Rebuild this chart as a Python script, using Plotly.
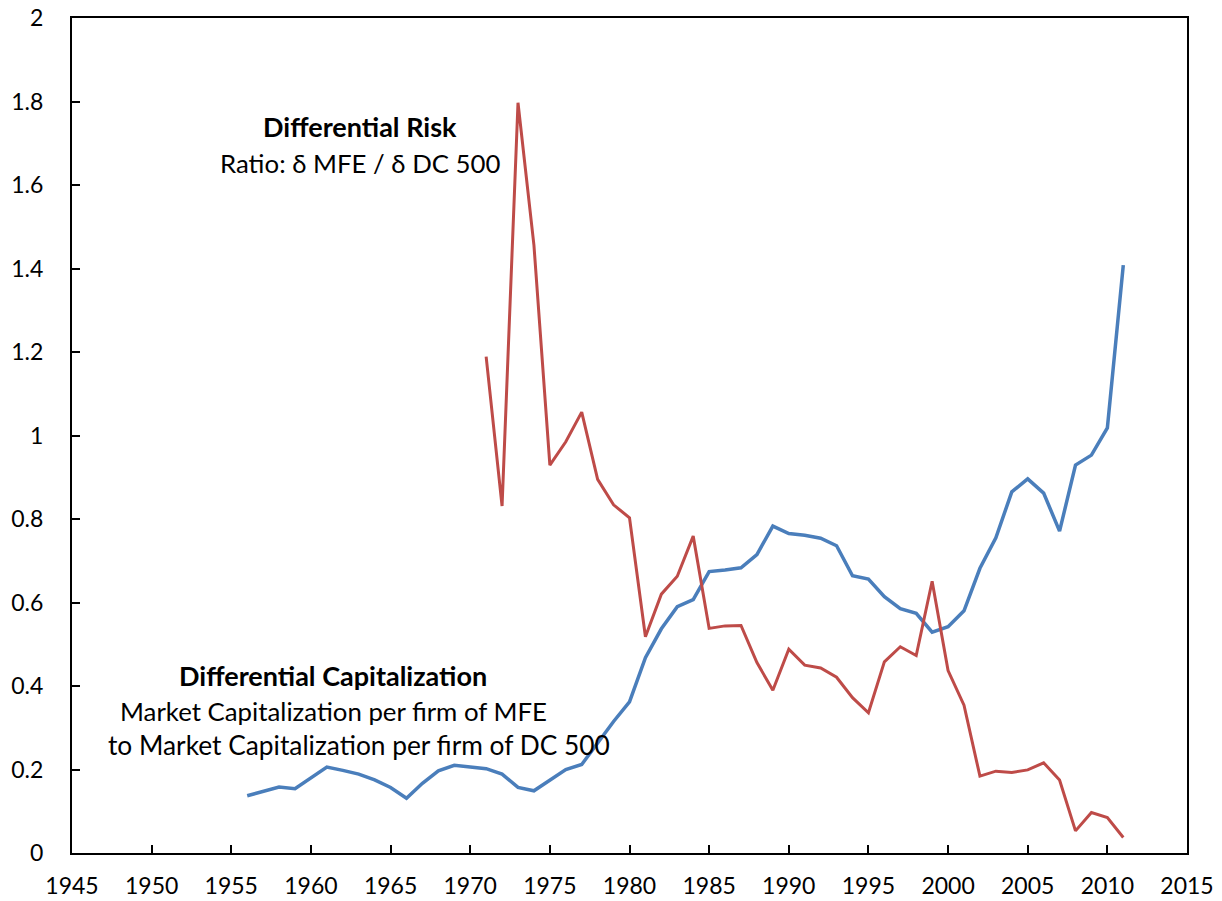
import plotly.graph_objects as go

# Differential Capitalization (MFE / DC 500), 1956-2011
cap_years = list(range(1956, 2012))
cap_values = [0.137, 0.147, 0.158, 0.154, 0.179, 0.206, 0.198, 0.189, 0.175, 0.157,
              0.131, 0.167, 0.197, 0.210, 0.206, 0.202, 0.189, 0.157, 0.149, 0.175,
              0.200, 0.212, 0.263, 0.315, 0.362, 0.468, 0.537, 0.590, 0.607, 0.674,
              0.678, 0.683, 0.715, 0.783, 0.765, 0.761, 0.754, 0.736, 0.664, 0.656,
              0.614, 0.585, 0.574, 0.529, 0.542, 0.580, 0.682, 0.755, 0.865, 0.896,
              0.862, 0.771, 0.929, 0.953, 1.018, 1.408]

# Differential Risk (delta MFE / delta DC 500), 1971-2011
risk_years = list(range(1971, 2012))
risk_values = [1.189, 0.831, 1.797, 1.456, 0.929, 0.985, 1.056, 0.895, 0.834, 0.803,
               0.518, 0.620, 0.663, 0.759, 0.538, 0.544, 0.545, 0.456, 0.390, 0.488,
               0.450, 0.443, 0.421, 0.372, 0.336, 0.458, 0.494, 0.473, 0.651, 0.437,
               0.354, 0.184, 0.196, 0.193, 0.199, 0.216, 0.175, 0.053, 0.097, 0.085,
               0.037]

FONT = "Lato, 'Open Sans', sans-serif"

fig = go.Figure()

fig.add_trace(go.Scatter(x=cap_years, y=cap_values, mode="lines",
                         line=dict(color="#4A7EBB", width=3.5), name="Differential Capitalization"))
fig.add_trace(go.Scatter(x=risk_years, y=risk_values, mode="lines",
                         line=dict(color="#BE4B48", width=3), name="Differential Risk"))

# Beschriftungen im Plot (x, y, Text, Schriftgroesse)
notes = [
    (1963.1, 1.739, "<b>Differential Risk</b>", 27),
    (1963.1, 1.653, "Ratio: δ MFE / δ DC 500", 25.8),
    (1961.4, 0.424, "<b>Differential Capitalization</b>", 27),
    (1961.4, 0.340, "Market Capitalization per firm of MFE", 25.8),
    (1963.0, 0.259, "to Market Capitalization per firm of DC 500", 26.3),
]
for x, y, t, s in notes:
    fig.add_annotation(x=x, y=y, text=t, showarrow=False, xanchor="center", yanchor="middle",
                       font=dict(family=FONT, size=s, color="black"))

fig.update_layout(
    width=1222, height=901,
    margin=dict(l=72, r=35, t=18, b=48),
    paper_bgcolor="white", plot_bgcolor="white",
    showlegend=False,
    font=dict(family=FONT, size=23, color="black"),
)

fig.update_xaxes(range=[1945, 2015], dtick=5, tick0=1945, showgrid=False, zeroline=False,
                 showline=True, linecolor="black", linewidth=2, mirror=True, automargin=False,
                 ticks="inside", ticklen=8, tickcolor="black", tickwidth=1.5,
                 ticklabelstandoff=11)
fig.update_yaxes(range=[0, 2], dtick=0.2, tick0=0, showgrid=False, zeroline=False,
                 showline=True, linecolor="black", linewidth=2, mirror=True, automargin=False,
                 ticks="inside", ticklen=8, tickcolor="black", tickwidth=1.5,
                 ticklabelstandoff=22)

# Body-Rand entfernen, damit die Grafik genau im Fenster sitzt
fig.write_html("out.html", config={"displayModeBar": False},
               post_script="document.body.style.margin='0';")
